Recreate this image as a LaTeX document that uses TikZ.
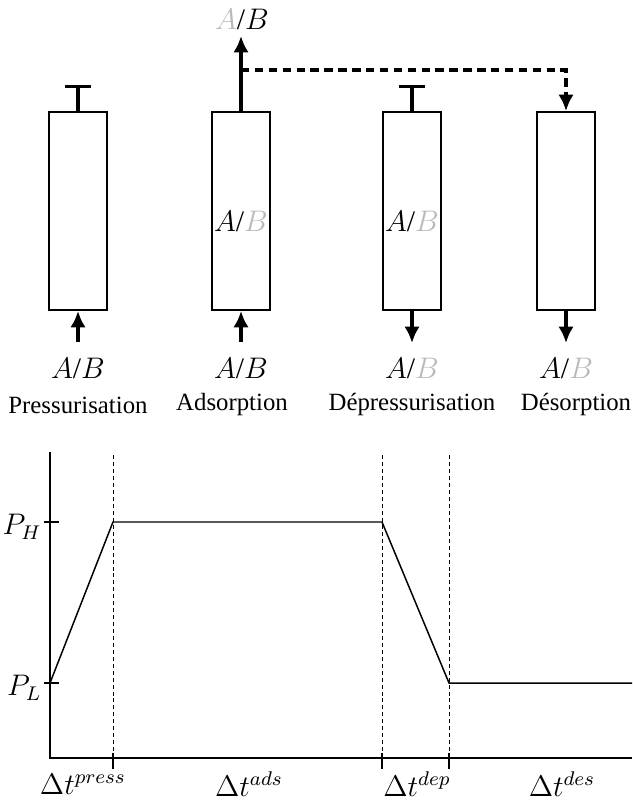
\documentclass[tikz,border=0pt]{standalone}
\usepackage{fontspec}
\setmainfont{Liberation Serif}
\usetikzlibrary{arrows.meta,positioning}
\colorlet{faded}{black!27}
\begin{document}
\begin{tikzpicture}[x=0.4032pt, y=-0.4032pt, >={Latex[length=6.6pt,width=6.2pt]}, font=\normalsize,
                column/.style={draw, line width=0.8pt, minimum width=23.4pt, minimum height=79.8pt, inner sep=0pt},
                flow/.style={line width=1.3pt},
                stopper/.style={line width=1.3pt, -{Bar[width=10.2pt, line width=1.3pt]}},
                gas/.style={font=\large, inner sep=0pt},
                phase/.style={inner sep=0pt},
                axis/.style={line width=1.2pt},
                guide/.style={line width=0.35pt, dash pattern=on 1.6pt off 1.2pt},
                tickline/.style={line width=0.6pt}]
                \useasboundingbox (0,0) rectangle (632,800);
                \node[column] (press) at (78,211) {};
                \node[column] (ads) at (241,211) {};
                \node[column] (dep) at (412,211) {};
                \node[column] (des) at (566,211) {};
                \node[gas] (adsin) at (241,221) {$A$/\textcolor{faded}{$B$}};
                \node[gas] (depin) at (412,221) {$A$/\textcolor{faded}{$B$}};
                \node[gas] (adsout) at (242,19) {\textcolor{faded}{$A$}/$B$};
                \coordinate (adstip) at (241,36);
                \coordinate (split) at (241,70);
                \coordinate (bend) at (566,70);
                \coordinate (cap1) at (78,85);
                \coordinate (cap3) at (412,85);
                \coordinate (feed1) at (78,342);
                \coordinate (feed2) at (241,342);
                \coordinate (drain3) at (412,343);
                \coordinate (drain4) at (566,343);
                \node[gas] (gas1) at (78,368) {$A$/$B$};
                \node[gas] (gas2) at (241,368) {$A$/$B$};
                \node[gas] (gas3) at (412,368) {$A$/\textcolor{faded}{$B$}};
                \node[gas] (gas4) at (566,368) {$A$/\textcolor{faded}{$B$}};
                \node[phase] (n1) at (78,405) {Pressurisation};
                \node[phase] (n2) at (232,405) {Adsorption};
                \node[phase] (n3) at (412,405) {Dépressurisation};
                \node[phase] (n4) at (576,405) {Désorption};

                \draw[stopper] (press.north) -- (cap1);
                \draw[stopper] (dep.north) -- (cap3);
                \draw[flow, ->] (ads.north) -- (adstip);
                \draw[flow, ->, dash pattern=on 3.4pt off 2.2pt] (split) -- (bend) -- (des.north);
                \draw[flow, ->] (feed1) -- (press.south);
                \draw[flow, ->] (feed2) -- (ads.south);
                \draw[flow, ->] (dep.south) -- (drain3);
                \draw[flow, ->] (des.south) -- (drain4);

                \coordinate (origin) at (50,758);
                \coordinate (ytop) at (50,452);
                \coordinate (xend) at (632,758);
                \coordinate (t1) at (113,758);
                \coordinate (t2) at (382,758);
                \coordinate (t3) at (449,758);
                \coordinate (high1) at (113,522);
                \coordinate (high2) at (382,522);
                \coordinate (low0) at (50,683);
                \coordinate (low1) at (449,683);
                \coordinate (low2) at (632,683);
                \draw[axis] (ytop) -- (origin) -- (xend);
                \foreach \t in {t1,t2,t3}
                    {\draw[guide] (\t) -- ++(0,-305);
                     \draw[tickline] (\t) ++(0,-5) -- ++(0,16);}
                \draw[tickline] (44,522) -- (59,522);
                \draw[tickline] (44,683) -- (59,683);
                \draw[line width=0.6pt] (low0) -- (high1) -- (high2) -- (low1) -- (low2);
                \node[gas, anchor=east] (PH) at (42,527) {$P_H$};
                \node[gas, anchor=east] (PL) at (42,688) {$P_L$};
                \node[gas] (d1) at (83,784) {$\Delta t^{press}$};
                \node[gas] (d2) at (249,784) {$\Delta t^{ads}$};
                \node[gas] (d3) at (417,784) {$\Delta t^{dep}$};
                \node[gas] (d4) at (562,784) {$\Delta t^{des}$};
            \end{tikzpicture}
\end{document}
